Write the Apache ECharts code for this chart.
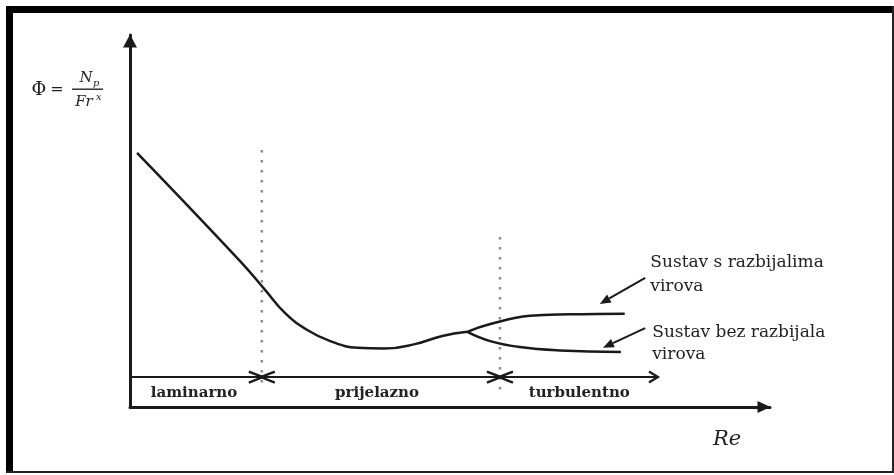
<!DOCTYPE html>
<html><head><meta charset="utf-8">
<script src="https://cdn.jsdelivr.net/npm/echarts@6/dist/echarts.min.js"></script>
<style>html,body{margin:0;padding:0;background:#fff}#c{width:894px;height:475px}</style>
</head><body><div id="c"></div><script>
// schematic values (arbitrary units, Re 0..100, phi 0..100)
const mainRe = [1.1, 17.2, 21.1, 24.2, 27.7, 31.3, 35.5, 39.8, 44.5, 48.8, 52.7];
const mainPhi = [68.3, 39.2, 31.5, 25.3, 20.7, 17.7, 15.9, 15.7, 16.9, 19.1, 20.2];
const baffledRe = [52.7, 56.3, 62.5, 68.8, 77.3];
const baffledPhi = [20.2, 22.3, 24.5, 24.9, 25.1];
const unbaffledRe = [52.7, 56.3, 60.9, 67.2, 76.7];
const unbaffledPhi = [20.2, 17.7, 16.1, 15.2, 14.8];
const regionBounds = [20.6, 57.8];
const boundTop = [69.1, 45.7];
const boundBottom = [4.6, 3.8];
const regionAxisPhi = 8.06;
const regionAxisEnd = 82.5;
const regionNames = ['laminarno', 'prijelazno', 'turbulentno'];
const regionLabelRe = [10.0, 38.6, 70.2];
const regionLabelPhi = 3.8;
const noteTexts = ['Sustav s razbijalima', 'virova', 'Sustav bez razbijala', 'virova'];
const noteRe = [81.3, 81.3, 81.6, 81.6];
const notePhi = [38.7, 32.5, 19.9, 14.0];
const arrowFromRe = [80.5, 80.5];
const arrowFromPhi = [34.7, 21.2];
const arrowToRe = [73.4, 73.9];
const arrowToPhi = [27.7, 15.9];

const ink = '#1a1a1a';
const txt = '#222';
const zip = (a, b) => a.map((v, i) => [v, b[i]]);

const chart = echarts.init(document.getElementById('c'), null, {renderer: 'canvas'});

function lineSeries(data) {
  return {
    type: 'line', data: data, symbol: 'none', silent: true, smooth: 0.45,
    lineStyle: {color: ink, width: 2.5}, z: 3
  };
}

const series = [
  lineSeries(zip(mainRe, mainPhi)),
  lineSeries(zip(baffledRe, baffledPhi)),
  lineSeries(zip(unbaffledRe, unbaffledPhi))
];
regionBounds.forEach((b, i) => {
  series.push({
    type: 'line', data: [[b, boundTop[i]], [b, boundBottom[i]]], symbol: 'none', silent: true,
    lineStyle: {color: '#8c8c8c', width: 2.5, type: [2.5, 7.5]}, z: 2
  });
});

function textEl(p, text, font, align) {
  return {
    type: 'text', x: p[0], y: p[1],
    style: {text: text, font: font, fill: txt, align: align, verticalAlign: 'middle',
            textAlign: align, textVerticalAlign: 'middle'}
  };
}

series.push({
  type: 'custom', coordinateSystem: 'cartesian2d', data: [[0, 0]], silent: true, z: 4,
  renderItem: function (params, api) {
    const c = p => api.coord(p);
    const ch = [];
    const a0 = c([0, regionAxisPhi]), a1 = c([regionAxisEnd, regionAxisPhi]);
    ch.push({type: 'line', shape: {x1: a0[0], y1: a0[1], x2: a1[0], y2: a1[1]}, style: {stroke: ink, lineWidth: 2}});
    ch.push({type: 'polyline', shape: {points: [[a1[0] - 9, a1[1] - 5.5], [a1[0], a1[1]], [a1[0] - 9, a1[1] + 5.5]]},
             style: {stroke: ink, lineWidth: 2.2, fill: null}});
    regionBounds.forEach(b => {
      const p = c([b, regionAxisPhi]);
      ch.push({type: 'polyline', shape: {points: [[p[0] - 13, p[1] - 5.5], [p[0] + 1, p[1]], [p[0] - 13, p[1] + 5.5]]},
               style: {stroke: ink, lineWidth: 2.4, fill: null}});
      ch.push({type: 'polyline', shape: {points: [[p[0] + 13, p[1] - 5.5], [p[0] - 1, p[1]], [p[0] + 13, p[1] + 5.5]]},
               style: {stroke: ink, lineWidth: 2.4, fill: null}});
    });
    regionNames.forEach((n, i) => {
      ch.push(textEl(c([regionLabelRe[i], regionLabelPhi]), n, 'bold 15px "DejaVu Serif"', 'center'));
    });
    noteTexts.forEach((t, i) => {
      ch.push(textEl(c([noteRe[i], notePhi[i]]), t, '17px "DejaVu Serif"', 'left'));
    });
    arrowFromRe.forEach((_, i) => {
      const s = c([arrowFromRe[i], arrowFromPhi[i]]);
      const e = c([arrowToRe[i], arrowToPhi[i]]);
      const dx = e[0] - s[0], dy = e[1] - s[1];
      const L = Math.sqrt(dx * dx + dy * dy), ux = dx / L, uy = dy / L;
      const hl = 11, hw = 4.5;
      const bx = e[0] - ux * hl, by = e[1] - uy * hl;
      ch.push({type: 'line', shape: {x1: s[0], y1: s[1], x2: bx, y2: by}, style: {stroke: ink, lineWidth: 2}});
      ch.push({type: 'polygon', shape: {points: [[e[0], e[1]], [bx - uy * hw, by + ux * hw], [bx + uy * hw, by - ux * hw]]},
               style: {fill: ink}});
    });
    return {type: 'group', children: ch};
  }
});

const f = '"DejaVu Serif"';
chart.setOption({
  animation: false,
  backgroundColor: '#fff',
  grid: {left: 130, top: 35, width: 640, height: 372, outerBoundsMode: 'none', containLabel: false},
  xAxis: {
    type: 'value', min: 0, max: 100,
    axisLine: {show: true, onZero: false, lineStyle: {color: ink, width: 3},
               symbol: ['none', 'triangle'], symbolSize: [12, 13], symbolOffset: [0, -6]},
    axisTick: {show: false}, axisLabel: {show: false}, splitLine: {show: false}
  },
  yAxis: {
    type: 'value', min: 0, max: 100,
    axisLine: {show: true, onZero: false, lineStyle: {color: ink, width: 3},
               symbol: ['none', 'triangle'], symbolSize: [14, 13], symbolOffset: [0, -6]},
    axisTick: {show: false}, axisLabel: {show: false}, splitLine: {show: false}
  },
  graphic: [
    {type: 'rect', shape: {x: 6, y: 6, width: 888, height: 7}, style: {fill: '#000'}},
    {type: 'rect', shape: {x: 6, y: 6, width: 7, height: 467}, style: {fill: '#000'}},
    {type: 'rect', shape: {x: 6, y: 471, width: 888, height: 2}, style: {fill: '#222'}},
    {type: 'rect', shape: {x: 892, y: 6, width: 2, height: 467}, style: {fill: '#222'}},
    {type: 'text', x: 727, y: 440, style: {text: 'Re', font: 'italic 21px ' + f, fill: txt, align: 'center', verticalAlign: 'middle'}},
    {type: 'text', x: 39, y: 90, style: {text: 'Φ', font: '18px ' + f, fill: txt, align: 'center', verticalAlign: 'middle'}},
    {type: 'text', x: 57, y: 90, style: {text: '=', font: '16px ' + f, fill: txt, align: 'center', verticalAlign: 'middle'}},
    {type: 'rect', shape: {x: 72, y: 88.5, width: 31, height: 1.4}, style: {fill: txt}},
    {type: 'text', x: 86, y: 78, style: {text: 'N', font: 'italic 15px ' + f, fill: txt, align: 'center', verticalAlign: 'middle'}},
    {type: 'text', x: 93, y: 83, style: {text: 'p', font: 'italic 10px ' + f, fill: txt, align: 'left', verticalAlign: 'middle'}},
    {type: 'text', x: 84, y: 102, style: {text: 'Fr', font: 'italic 15px ' + f, fill: txt, align: 'center', verticalAlign: 'middle'}},
    {type: 'text', x: 96, y: 97, style: {text: 'x', font: 'italic 10px ' + f, fill: txt, align: 'left', verticalAlign: 'middle'}}
  ],
  series: series
});
</script></body></html>
